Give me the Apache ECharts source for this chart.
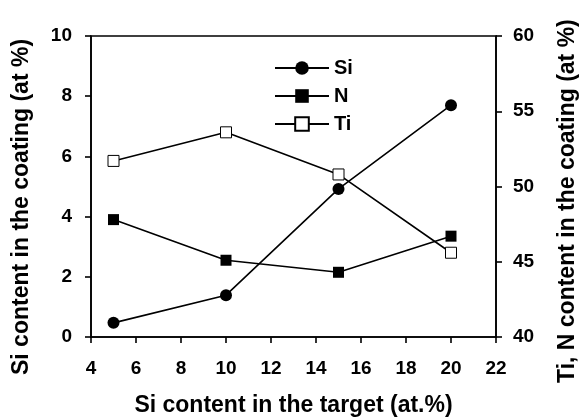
<!DOCTYPE html>
<html>
<head>
<meta charset="utf-8">
<script src="https://cdn.jsdelivr.net/npm/echarts@6/dist/echarts.min.js"></script>
<style>html,body{margin:0;padding:0;background:#fff}#c{width:580px;height:418px}</style>
</head>
<body>
<div id="c"></div>
<script>
const targetSi = [5, 10, 15, 20];
const siCoating = [0.47, 1.39, 4.92, 7.70];
const nCoating = [47.8, 45.1, 44.3, 46.7];
const tiCoating = [51.7, 53.6, 50.8, 45.6];
const xTitle = 'Si content in the target (at.%)';
const yLeftTitle = 'Si content in the coating (at %)';
const yRightTitle = 'Ti, N content in the coating (at %)';

const FONT = '"Liberation Sans", Arial, Helvetica, sans-serif';
const pair = (xs, ys) => xs.map((x, i) => [x, ys[i]]);
const axisCommon = {
  axisLine: {show: true, lineStyle: {color: '#000', width: 1.6}},
  axisTick: {show: true, length: 6, lineStyle: {color: '#000', width: 1.6}},
  splitLine: {show: false},
  axisLabel: {color: '#000', fontFamily: FONT, fontWeight: 'bold', fontSize: 19}
};
const chart = echarts.init(document.getElementById('c'), null, {renderer: 'canvas'});
chart.setOption({
  animation: false,
  backgroundColor: '#fff',
  grid: {left: 91, right: 84, top: 36, bottom: 81, show: true, borderColor: '#000', borderWidth: 1.6,
         containLabel: false, outerBoundsMode: 'none'},
  legend: {
    orient: 'vertical', left: 269, top: 53, itemWidth: 54, itemHeight: 17, itemGap: 8,
    textStyle: {color: '#000', fontFamily: FONT, fontWeight: 'bold', fontSize: 20},
    data: ['Si', 'N', 'Ti']
  },
  xAxis: Object.assign({}, axisCommon, {
    type: 'value', min: 4, max: 22, interval: 2,
    axisLabel: Object.assign({}, axisCommon.axisLabel, {margin: 22}),
    name: xTitle, nameLocation: 'middle', nameGap: 57,
    nameTextStyle: {color: '#000', fontFamily: FONT, fontWeight: 'bold', fontSize: 23}
  }),
  yAxis: [
    Object.assign({}, axisCommon, {
      type: 'value', min: 0, max: 10, interval: 2, position: 'left',
      axisLabel: Object.assign({}, axisCommon.axisLabel, {margin: 19})
    }),
    Object.assign({}, axisCommon, {
      type: 'value', min: 40, max: 60, interval: 5, position: 'right',
      axisLabel: Object.assign({}, axisCommon.axisLabel, {margin: 17})
    })
  ],
  graphic: [
    {
      type: 'text', x: 33, y: 375, rotation: Math.PI / 2,
      style: {text: yLeftTitle, fill: '#000', font: 'bold 23px ' + FONT, textVerticalAlign: 'bottom', textAlign: 'left'}
    },
    {
      type: 'text', x: 579, y: 383, rotation: Math.PI / 2,
      style: {text: yRightTitle, fill: '#000', font: 'bold 23px ' + FONT, textVerticalAlign: 'bottom', textAlign: 'left'}
    }
  ],
  series: [
    {name: 'Si', type: 'line', yAxisIndex: 0, data: pair(targetSi, siCoating),
     symbol: 'circle', symbolSize: 12, lineStyle: {color: '#000', width: 1.6},
     itemStyle: {color: '#000'}},
    {name: 'N', type: 'line', yAxisIndex: 1, data: pair(targetSi, nCoating),
     symbol: 'rect', symbolSize: 11, lineStyle: {color: '#000', width: 1.6},
     itemStyle: {color: '#000'}},
    {name: 'Ti', type: 'line', yAxisIndex: 1, data: pair(targetSi, tiCoating),
     symbol: 'rect', symbolSize: 11, lineStyle: {color: '#000', width: 1.6},
     itemStyle: {color: '#fff', borderColor: '#000', borderWidth: 1}}
  ]
});
</script>
</body>
</html>
